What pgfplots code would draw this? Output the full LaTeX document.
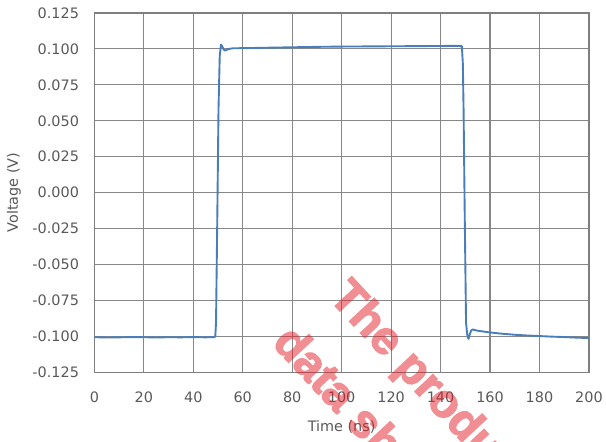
\documentclass[border=0pt]{standalone}
\usepackage{fontspec}
\setmainfont{DejaVu Sans}
\newfontfamily\wmfont[FakeBold=3]{Liberation Sans Bold}
\usepackage{pgfplots}
\pgfplotsset{compat=1.18}
\definecolor{tickgray}{HTML}{595959}
\definecolor{gridgray}{HTML}{878787}
\definecolor{axisgray}{HTML}{7F7F7F}
\definecolor{lineblue}{HTML}{4A7EBB}
\definecolor{wmred}{RGB}{225,30,40}
\begin{document}
\begin{tikzpicture}
\path (-95pt,-70pt) rectangle (511pt,375pt);
\begin{axis}[
  anchor=south west,
  scale only axis, width=498pt, height=362pt,
  xmin=0, xmax=200, ymin=-0.125, ymax=0.125,
  xtick={0,20,...,200},
  ytick={-0.125,-0.1,-0.075,-0.05,-0.025,0,0.025,0.05,0.075,0.1,0.125},
  major tick length=0pt,
  grid=major,
  major grid style={draw=gridgray, line width=1.2pt},
  axis line style={draw=axisgray, line width=1.5pt},
  /pgf/number format/assume math mode=true,
  yticklabel={\pgfmathprintnumber[fixed,fixed zerofill,precision=3]{\tick}},
  ticklabel style={font=\fontsize{14.5}{17}\selectfont, text=tickgray},
  yticklabel style={xshift=-12pt},
  xticklabel style={yshift=-16pt},
  xlabel={Time (ns)}, ylabel={Voltage (V)},
  label style={font=\fontsize{14.5}{17}\selectfont, text=tickgray},
  xlabel style={at={(axis description cs:0.5,-0.1519)}, anchor=center},
  ylabel style={at={(axis description cs:-0.1627,0.5)}, anchor=center},
  clip=true,
]
\addplot[color=lineblue, line width=1.9pt, line join=round] coordinates {
(0,-0.1005) (5,-0.1007) (10,-0.1006) (15,-0.1004) (20,-0.1005) (25,-0.1007)
(30,-0.1005) (35,-0.1006) (40,-0.1004) (45,-0.1006) (48.5,-0.1004)
(48.9,-0.1000) (49.2,-0.0905) (49.7,-0.020) (50.2,0.058) (50.7,0.095)
(51.2,0.1030) (51.7,0.1018) (52.3,0.0995) (52.8,0.0988) (54,0.0998)
(56,0.1004) (60,0.1005) (70,0.1008) (80,0.1011) (90,0.1014) (100,0.1016)
(110,0.1017) (120,0.1018) (130,0.1019) (140,0.1020) (146,0.1021) (148.6,0.1019)
(149.0,0.090) (149.3,0.058) (149.8,-0.020) (150.3,-0.0905) (150.8,-0.0990)
(151.3,-0.1017) (151.8,-0.0985) (152.4,-0.0958) (153,-0.0951) (155,-0.0960)
(160,-0.0972) (165,-0.0981) (170,-0.0988) (175,-0.0993) (180,-0.0997)
(185,-0.1001) (190,-0.1004) (195,-0.1008) (200,-0.1011)
};
\end{axis}
\begin{scope}[overlay]
\clip (-95pt,-70pt) rectangle (511pt,375pt);
\begin{scope}[transparency group, opacity=0.5]
\node[rotate=-47, anchor=base west, inner sep=0pt, font=\wmfont\fontsize{47}{47}\selectfont, text=wmred] at (235pt,75pt) {The product};
\node[rotate=-47, anchor=base west, inner sep=0pt, font=\wmfont\fontsize{47}{47}\selectfont, text=wmred] at (178pt,29pt) {data sheet};
\end{scope}
\end{scope}
\end{tikzpicture}
\end{document}
